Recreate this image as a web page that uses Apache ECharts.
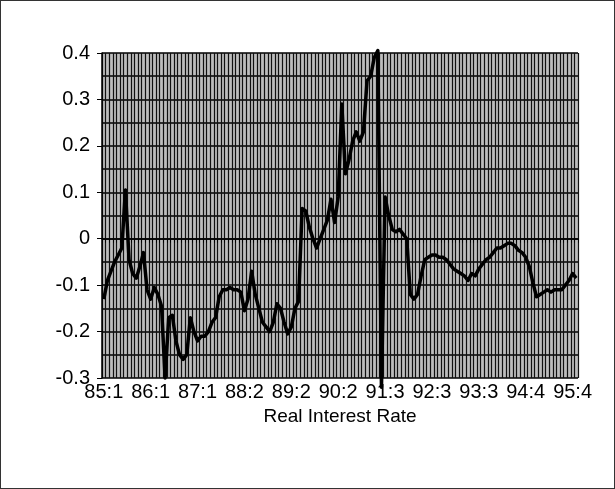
<!DOCTYPE html>
<html>
<head>
<meta charset="utf-8">
<script src="https://cdn.jsdelivr.net/npm/echarts@6/dist/echarts.min.js"></script>
<style>
  html, body { margin: 0; padding: 0; background: #fff; }
  #real-rate-chart {
    width: 615px;
    height: 489px;
    box-sizing: border-box;
    border: 1px solid #333;
  }
</style>
</head>
<body>
<div id="real-rate-chart"></div>
<script>
// monthly real interest rate, one array per year
const rate85 = [-0.13, -0.09, -0.07, -0.05, -0.035, -0.02, 0.105, -0.045, -0.075, -0.085, -0.06, -0.03];
const rate86 = [-0.11, -0.13, -0.105, -0.12, -0.145, -0.30, -0.17, -0.165, -0.22, -0.25, -0.26, -0.25];
const rate87 = [-0.17, -0.2, -0.22, -0.21, -0.21, -0.2, -0.18, -0.17, -0.125, -0.11, -0.11, -0.105];
const rate88 = [-0.11, -0.11, -0.115, -0.155, -0.13, -0.07, -0.12, -0.15, -0.18, -0.19, -0.2, -0.18];
const rate89 = [-0.14, -0.15, -0.18, -0.205, -0.19, -0.15, -0.135, 0.065, 0.06, 0.025, 0.0, -0.02];
const rate90 = [0.0, 0.02, 0.04, 0.085, 0.035, 0.09, 0.29, 0.14, 0.17, 0.21, 0.23, 0.21];
const rate91 = [0.23, 0.34, 0.35, 0.39, 0.405, -0.32, 0.09, 0.05, 0.02, 0.015, 0.02, 0.01];
const rate92 = [0.0, -0.12, -0.13, -0.12, -0.08, -0.045, -0.04, -0.035, -0.035, -0.04, -0.04, -0.045];
const rate93 = [-0.055, -0.065, -0.07, -0.075, -0.08, -0.09, -0.075, -0.08, -0.065, -0.055, -0.045, -0.04];
const rate94 = [-0.03, -0.02, -0.02, -0.015, -0.01, -0.01, -0.015, -0.025, -0.03, -0.04, -0.06, -0.095];
const rate95 = [-0.125, -0.12, -0.115, -0.11, -0.115, -0.11, -0.11, -0.11, -0.1, -0.09, -0.075, -0.085];

const years = ['85', '86', '87', '88', '89', '90', '91', '92', '93', '94', '95'];
const monthQuarter = [1, 1, 1, 2, 2, 2, 3, 3, 3, 4, 4, 4];

const rates = [].concat(rate85, rate86, rate87, rate88, rate89, rate90, rate91, rate92, rate93, rate94, rate95);
const categories = [];
years.forEach(function (y) {
  monthQuarter.forEach(function (q) {
    categories.push(y + ':' + q);
  });
});

const chart = echarts.init(document.getElementById('real-rate-chart'), null, { renderer: 'canvas' });

const option = {
  animation: false,
  textStyle: { fontFamily: 'Liberation Sans' },
  grid: {
    left: 101,
    right: 36,
    top: 52,
    bottom: 110,
    show: true,
    backgroundColor: '#bdbdbd',
    borderWidth: 0,
    outerBoundsMode: 'none'
  },
  xAxis: {
    type: 'category',
    data: categories,
    boundaryGap: true,
    name: 'Real Interest Rate',
    nameLocation: 'middle',
    nameGap: 23,
    nameTextStyle: { color: '#000', fontSize: 19, fontFamily: 'Liberation Sans' },
    axisLine: { lineStyle: { color: '#000', width: 1.5 } },
    axisTick: { show: true, interval: 0, length: 4, lineStyle: { color: '#000' } },
    axisLabel: {
      interval: 12,
      margin: 4,
      color: '#000',
      fontSize: 20,
      fontFamily: 'Liberation Sans'
    },
    splitLine: { show: true, interval: 0, lineStyle: { color: '#111', width: 1.2 } }
  },
  yAxis: {
    type: 'value',
    min: -0.3,
    max: 0.4,
    interval: 0.1,
    axisLine: { show: true, lineStyle: { color: '#000', width: 1.5 } },
    axisTick: { show: true, length: 5, lineStyle: { color: '#000' } },
    axisLabel: {
      margin: 12,
      color: '#000',
      fontSize: 20,
      fontFamily: 'Liberation Sans',
      formatter: function (v) { return Math.round(v * 10) / 10 + ''; }
    },
    splitLine: { show: true, lineStyle: { color: '#000', width: 1.5 } },
    minorTick: { show: false, splitNumber: 2 },
    minorSplitLine: { show: true, lineStyle: { color: '#000', width: 1.5 } }
  },
  series: [
    {
      name: 'Real Interest Rate',
      type: 'line',
      data: rates,
      symbol: 'none',
      clip: false,
      lineStyle: { color: '#000', width: 3.5, join: 'round' }
    }
  ]
};

chart.setOption(option);
</script>
</body>
</html>
